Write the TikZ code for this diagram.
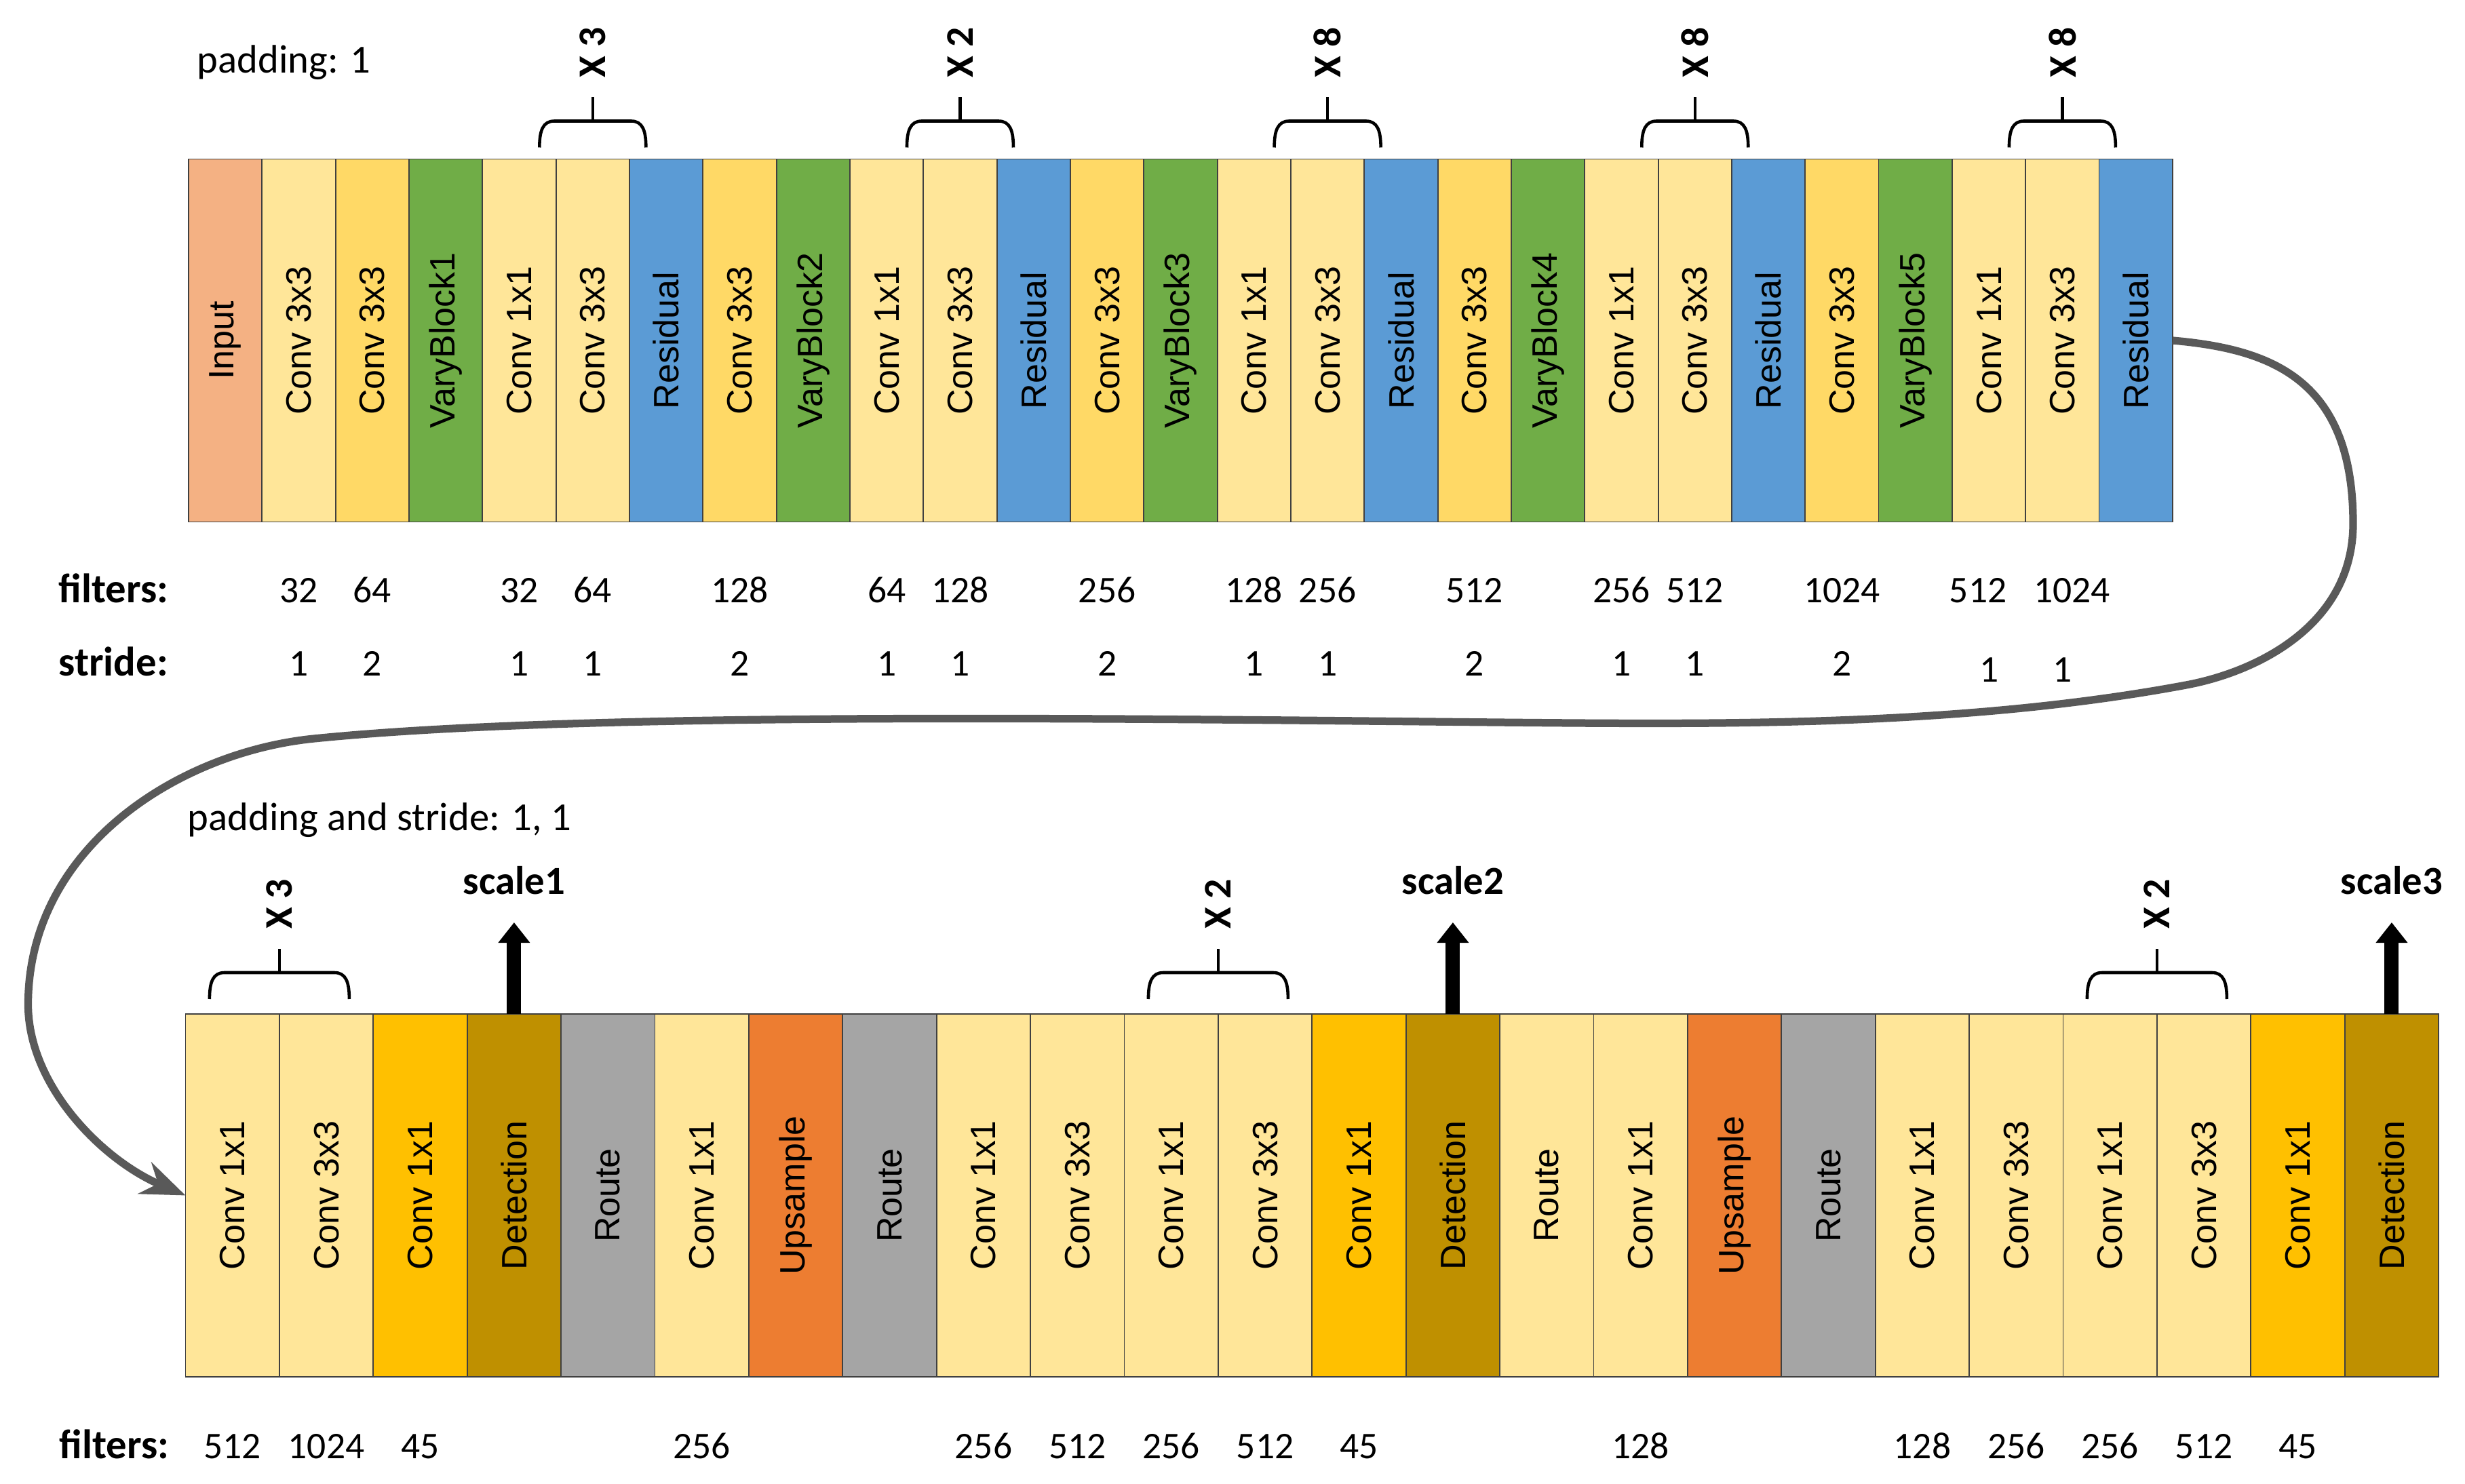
\documentclass[tikz,border=0pt]{standalone}
\usepackage{fontspec}
\setmainfont{Liberation Sans}
\newfontfamily\carlito{Carlito}
\usetikzlibrary{arrows.meta,positioning}

\definecolor{inputc}{HTML}{F4B183}
\definecolor{convl}{HTML}{FFE699}
\definecolor{convd}{HTML}{FFD966}
\definecolor{varyc}{HTML}{70AD47}
\definecolor{resc}{HTML}{5B9BD5}
\definecolor{convo}{HTML}{FFC000}
\definecolor{detc}{HTML}{BF9000}
\definecolor{routec}{HTML}{A5A5A5}
\definecolor{upc}{HTML}{ED7D31}
\definecolor{linkc}{HTML}{595959}

\tikzset{
  layer/.style={draw=black!75, line width=0.5pt, inner sep=0pt, outer sep=0pt,
    minimum height=5.35cm, font=\fontsize{14.8}{17}\selectfont},
  toplayer/.style={layer, minimum width=1.0833cm},
  botlayer/.style={layer, minimum width=1.384cm},
  num/.style={anchor=base, inner sep=0pt, font=\carlito\fontsize{15.8}{18}\selectfont},
  rowname/.style={anchor=base west, inner sep=0pt, font=\carlito\bfseries\fontsize{17.3}{20}\selectfont},
  note/.style={anchor=base west, inner sep=0pt, font=\carlito\fontsize{16.7}{20}\selectfont},
  brace/.style={line width=1.3pt},
  times/.style={rotate=90, inner sep=0pt, font=\carlito\bfseries\fontsize{16.4}{19}\selectfont},
  scalelbl/.style={inner sep=0pt, font=\carlito\bfseries\fontsize{16.7}{20}\selectfont},
  scalearrow/.style={line width=6pt, -{Triangle[length=0.3cm,width=0.45cm]}},
  link/.style={linkc, line width=3.2pt, -{Stealth[length=0.65cm,width=0.5cm]}}
}

% repeat brace: anchor, half width, base offset, label
\newcommand\repbrace[4]{
  \begin{scope}[shift={(#1)}]
    \draw[brace] (-#2,#3) .. controls (-#2,#3+0.25) and (-#2+0.05,#3+0.39) .. (-#2+0.22,#3+0.39)
      -- (#2-0.22,#3+0.39) .. controls (#2-0.05,#3+0.39) and (#2,#3+0.25) .. (#2,#3);
    \draw[brace] (0,#3+0.39) -- (0,#3+0.74);
    \node[times] at (0,#3+1.40) {#4};
  \end{scope}
}

\begin{document}
\begin{tikzpicture}
  \useasboundingbox (0,0) rectangle (36.34,21.87);

  % backbone
  \foreach \col/\lbl [count=\i] in {inputc/Input, convl/Conv 3x3, convd/Conv 3x3, varyc/VaryBlock1,
      convl/Conv 1x1, convl/Conv 3x3, resc/Residual, convd/Conv 3x3, varyc/VaryBlock2,
      convl/Conv 1x1, convl/Conv 3x3, resc/Residual, convd/Conv 3x3, varyc/VaryBlock3,
      convl/Conv 1x1, convl/Conv 3x3, resc/Residual, convd/Conv 3x3, varyc/VaryBlock4,
      convl/Conv 1x1, convl/Conv 3x3, resc/Residual, convd/Conv 3x3, varyc/VaryBlock5,
      convl/Conv 1x1, convl/Conv 3x3, resc/Residual}
    \node[toplayer, fill=\col] (t\i) at ({2.78+(\i-0.5)*1.0833},16.85) {\rotatebox{90}{\lbl}};

  % head
  \foreach \col/\lbl [count=\i] in {convl/Conv 1x1, convl/Conv 3x3, convo/Conv 1x1, detc/Detection,
      routec/Route, convl/Conv 1x1, upc/Upsample, routec/Route, convl/Conv 1x1, convl/Conv 3x3,
      convl/Conv 1x1, convl/Conv 3x3, convo/Conv 1x1, detc/Detection, convl/Route, convl/Conv 1x1,
      upc/Upsample, routec/Route, convl/Conv 1x1, convl/Conv 3x3, convl/Conv 1x1, convl/Conv 3x3,
      convo/Conv 1x1, detc/Detection}
    \node[botlayer, fill=\col] (b\i) at ({2.735+(\i-0.5)*1.384},4.245) {\rotatebox{90}{\lbl}};

  \node[note] (pad) at (2.90,20.79) {padding: 1};
  \node[note] (padstr) at (2.76,9.62) {padding and stride: 1, 1};

  \repbrace{t6.north}{0.785}{0.17}{X 3}
  \repbrace{t11.north}{0.785}{0.17}{X 2}
  \repbrace{t16.north}{0.785}{0.17}{X 8}
  \repbrace{t21.north}{0.785}{0.17}{X 8}
  \repbrace{t26.north}{0.785}{0.17}{X 8}
  \repbrace{b1.north east}{1.03}{0.22}{X 3}
  \repbrace{b11.north east}{1.03}{0.22}{X 2}
  \repbrace{b21.north east}{1.03}{0.22}{X 2}

  % outputs
  \draw[scalearrow] (b4.north) -- ++(0,1.35) coordinate (a1);
  \draw[scalearrow] (b14.north) -- ++(0,1.35) coordinate (a2);
  \draw[scalearrow] (b24.north) -- ++(0,1.35) coordinate (a3);
  \node[scalelbl, above=0.4cm of a1] (sc1) {scale1};
  \node[scalelbl, above=0.4cm of a2] (sc2) {scale2};
  \node[scalelbl, above=0.4cm of a3] (sc3) {scale3};

  % filters and strides
  \coordinate (frow) at (0,12.98);
  \coordinate (srow) at (0,11.90);
  \coordinate (bfrow) at (0,0.37);
  \node[rowname] (fl) at (0.86,12.98) {filters:};
  \node[rowname] (sl) at (0.86,11.90) {stride:};
  \node[rowname] (bfl) at (0.87,0.37) {filters:};
  \foreach \n/\v in {2/32, 3/64, 5/32, 6/64, 8/128, 10/64, 11/128, 13/256, 15/128, 16/256,
      18/512, 20/256, 21/512, 23/1024}
    \node[num] at (t\n |- frow) {\v};
  \node[num, xshift=-0.16cm] at (t25 |- frow) {512};
  \node[num, xshift=0.14cm] at (t26 |- frow) {1024};
  \foreach \n/\v in {2/1, 3/2, 5/1, 6/1, 8/2, 10/1, 11/1, 13/2, 15/1, 16/1, 18/2, 20/1, 21/1, 23/2}
    \node[num] at (t\n |- srow) {\v};
  \node[num, yshift=-0.09cm] at (t25 |- srow) {1};
  \node[num, yshift=-0.09cm] at (t26 |- srow) {1};
  \foreach \n/\v in {1/512, 2/1024, 3/45, 6/256, 9/256, 10/512, 11/256, 12/512, 13/45,
      16/128, 19/128, 20/256, 21/256, 22/512, 23/45}
    \node[num] at (b\n |- bfrow) {\v};

  % backbone to head
  \draw[link] (t27.east) .. controls (33.50,16.72) and (34.69,16.27) .. (34.69,14.15)
    .. controls (34.69,12.67) and (33.30,11.97) .. (32.23,11.77)
    .. controls (29.23,11.21) and (26.00,11.19) .. (23.18,11.21)
    .. controls (18.00,11.25) and (9.00,11.42) .. (4.63,10.98)
    .. controls (2.63,10.78) and (0.415,9.37) .. (0.415,7.06)
    .. controls (0.415,5.87) and (1.50,4.77) .. (b1.west);
\end{tikzpicture}
\end{document}
